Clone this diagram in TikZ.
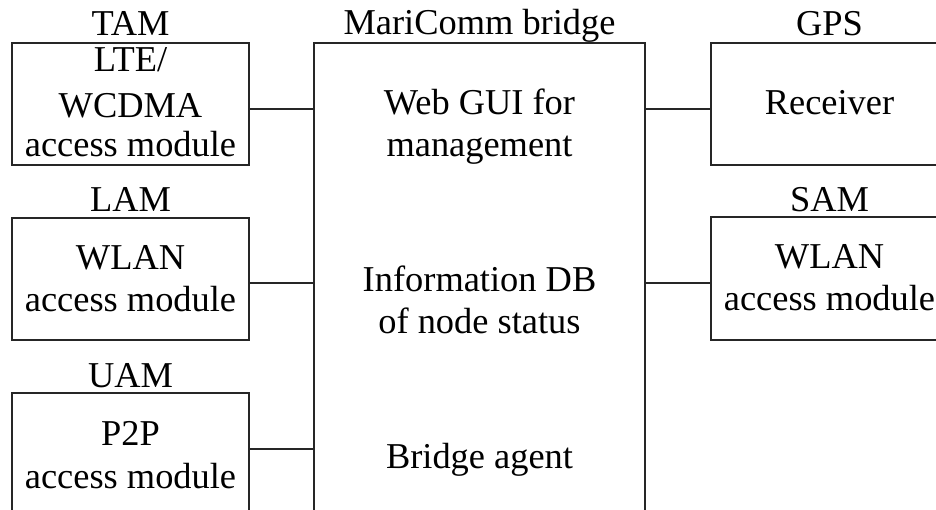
\documentclass[tikz,border=0pt]{standalone}
\usepackage{fontspec}
\setmainfont{Liberation Serif}
\begin{document}
\begin{tikzpicture}[x=1pt,y=-1pt,
  every node/.style={font=\fontsize{36.4}{42}\selectfont, text=black},
  modbox/.style={draw=black!85, line width=1.3pt, rectangle, inner sep=0pt,
                 outer sep=0pt, anchor=north west, minimum width=237pt,
                 minimum height=122pt},
  bridgebox/.style={modbox, minimum width=331pt, minimum height=480pt},
  txt/.style={anchor=base, align=center, inner sep=0pt},
  link/.style={draw=black!85, line width=1.3pt}]
\useasboundingbox (0,0) rectangle (936,510);
\clip (0,0) rectangle (936,510);

% boxes
\node[modbox] (tam) at (12,43) {};
\node[modbox] (lam) at (12,218) {};
\node[modbox] (uam) at (12,393) {};
\node[bridgebox] (main) at (314,43) {};
\node[modbox] (gps) at (711,43) {};
\node[modbox, minimum height=123pt] (sam) at (711,217) {};

% titles above the boxes
\node[txt] (tamlbl) at (130.5,36) {TAM};
\node[txt] (lamlbl) at (130.5,212) {LAM};
\node[txt] (uamlbl) at (130.5,387) {UAM};
\node[txt] (mainlbl) at (479.5,35) {MariComm bridge};
\node[txt] (gpslbl) at (829.5,36) {GPS};
\node[txt] (samlbl) at (829.5,212) {SAM};

% box contents (placed by the baseline of the last line)
\node[txt] (tamtxt) at (130.5,157) {LTE/\\[3.6pt]WCDMA\\[-2.6pt]access module};
\node[txt] (lamtxt) at (130.5,312) {WLAN\\access module};
\node[txt] (uamtxt) at (130.5,488) {P2P\\[1pt]access module};
\node[txt] (webtxt) at (479.5,157) {Web GUI for\\management};
\node[txt] (dbtxt) at (479.5,333) {Information DB\\[-1pt]of node status};
\node[txt] (agenttxt) at (479.5,468) {Bridge agent};
\node[txt] (gpstxt) at (829.5,115) {Receiver};
\node[txt] (samtxt) at (829.5,310) {WLAN\\[-1pt]access module};

% connector heights
\coordinate (r1) at (0,109);
\coordinate (r2) at (0,283);
\coordinate (r3) at (0,449);

% connectors
\draw[link] (tam.east |- r1) -- (main.west |- r1);
\draw[link] (lam.east |- r2) -- (main.west |- r2);
\draw[link] (uam.east |- r3) -- (main.west |- r3);
\draw[link] (main.east |- r1) -- (gps.west |- r1);
\draw[link] (main.east |- r2) -- (sam.west |- r2);
\end{tikzpicture}
\end{document}
